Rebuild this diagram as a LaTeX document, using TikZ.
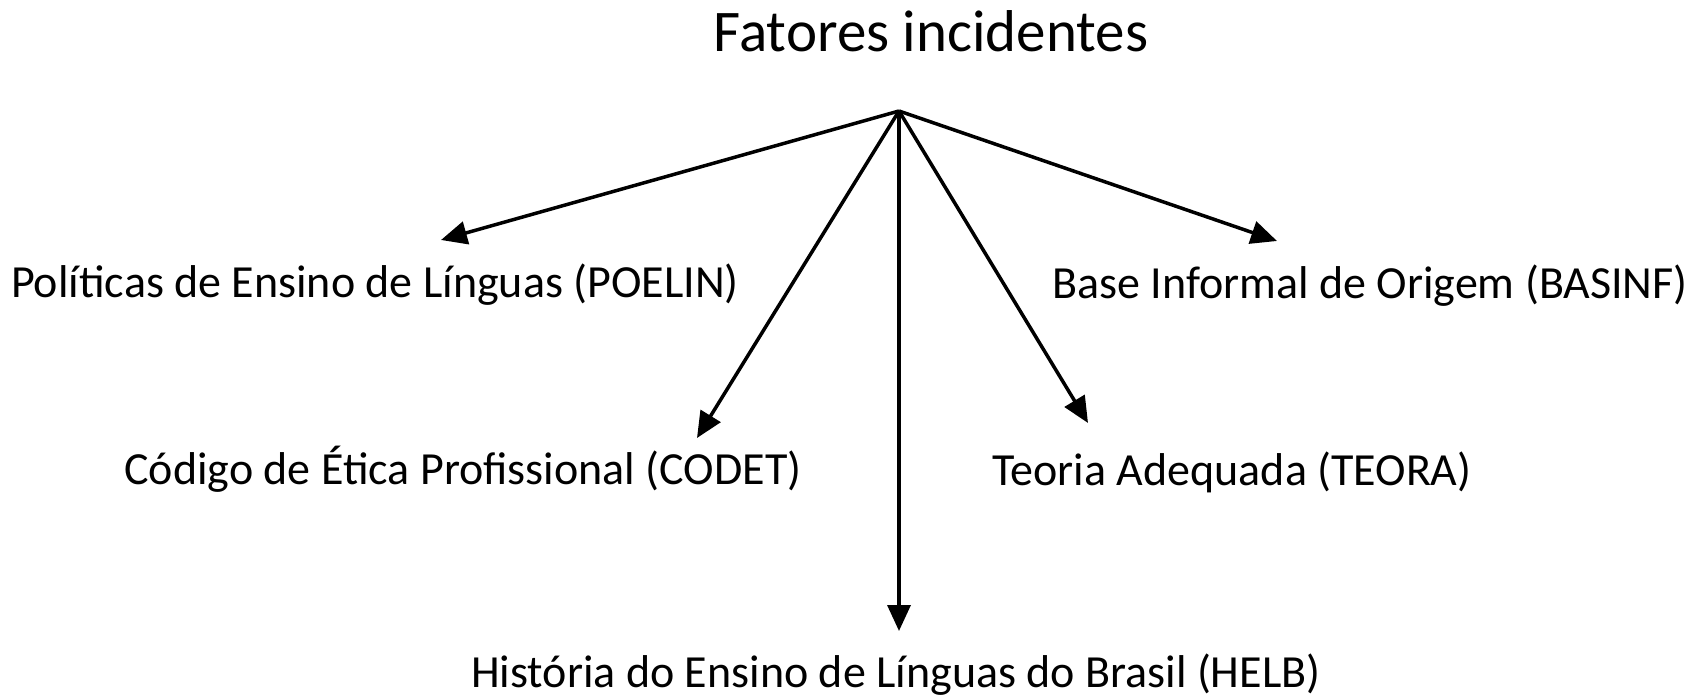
\documentclass[tikz,border=0pt]{standalone}
\usepackage{fontspec}
\setmainfont{Carlito}
\usetikzlibrary{arrows.meta}
\tikzset{
  fator/.style={anchor=base, inner sep=0pt, font=\fontsize{46}{52}\selectfont},
  seta/.style={line width=3.5pt, -{Triangle[length=26pt,width=23pt]}}
}
\begin{document}
\begin{tikzpicture}[x=1pt,y=-1pt]
\useasboundingbox (0,0) rectangle (1700,700);
\node[anchor=base, inner sep=0pt, font=\fontsize{59}{66}\selectfont] (titulo) at (931,52) {Fatores incidentes};
\coordinate (apice) at (899,111);
% rotulos
\node[fator] (poelin) at (375,298) {Políticas de Ensino de Línguas (POELIN)};
\node[fator] (basinf) at (1370,299) {Base Informal de Origem (BASINF)};
\node[fator] (codet) at (463,484) {Código de Ética Profissional (CODET)};
\node[fator] (teora) at (1232,485) {Teoria Adequada (TEORA)};
\node[fator] (helb) at (896,687) {História do Ensino de Línguas do Brasil (HELB)};
% pontas das setas
\coordinate (poelinPonta) at (441,240);
\coordinate (basinfPonta) at (1277,241);
\coordinate (codetPonta) at (697,438);
\coordinate (teoraPonta) at (1088,423);
\coordinate (helbPonta) at (899,631);
\draw[seta] (apice) -- (poelinPonta);
\draw[seta] (apice) -- (basinfPonta);
\draw[seta] (apice) -- (codetPonta);
\draw[seta] (apice) -- (teoraPonta);
\draw[seta] (apice) -- (helbPonta);
\end{tikzpicture}
\end{document}
